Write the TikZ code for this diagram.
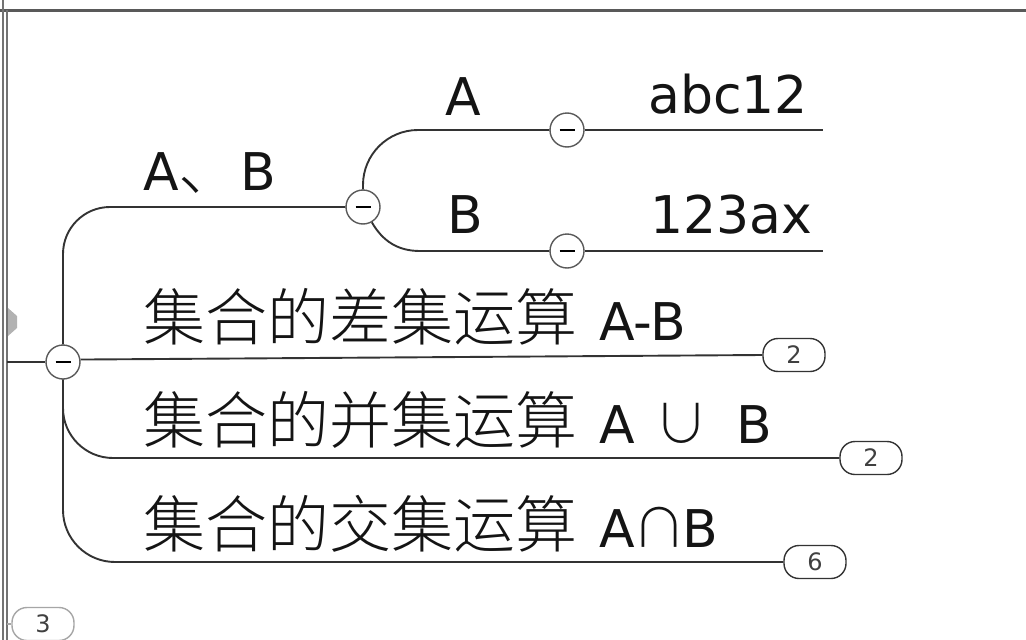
\documentclass[tikz,border=0pt]{standalone}
\usepackage{fontspec}
\setmainfont{DejaVu Sans}
\IfFontExistsTF{Noto Sans CJK SC Light}{\newfontfamily\cjk{Noto Sans CJK SC Light}}{\newfontfamily\cjk{Noto Sans CJK SC}}
\newcommand{\hanzi}[1]{{\cjk\fontsize{62}{62}\selectfont #1}}
\newcommand{\setop}[1]{{\cjk\fontsize{54}{54}\selectfont #1}}
\tikzset{branch/.style={line width=1.9pt, draw=black!80}}
\tikzset{fold/.style={circle, draw=black!65, line width=1.4pt, fill=white, minimum size=34pt, inner sep=0pt}}
\tikzset{badge/.style={draw=black!80, line width=1.4pt, fill=white, rounded corners=15pt, minimum width=62pt, minimum height=33pt, inner sep=0pt, text=black!75, font=\fontsize{24}{24}\selectfont}}
\tikzset{txt/.style={anchor=base west, inner sep=0pt, text=black!92, font=\fontsize{52}{60}\selectfont}}

\begin{document}
\begin{tikzpicture}[x=1pt,y=-1pt]
    \useasboundingbox (0,0) rectangle (1026,640);
    % window frame
    \draw[black!65, line width=3pt] (0,10) -- (1026,10);
    \draw[black!55, line width=1.2pt] (3,0) -- (3,640);
    \draw[black!55, line width=1.2pt] (7,10) -- (7,640);
    \fill[black!30] (8,308) -- (17,316) -- (17,328) -- (8,336) -- cycle;

    \node[fold] (root) at (63,362) {\rule{15pt}{2pt}};
    \node[fold] (ab) at (363,207) {\rule{15pt}{2pt}};
    \node[fold] (ca) at (567,130) {\rule{15pt}{2pt}};
    \node[fold] (cb) at (567,251) {\rule{15pt}{2pt}};
    \node[badge] (n1) at (794,355) {2};
    \node[badge] (n2) at (871,458) {2};
    \node[badge] (n3) at (815,562) {6};
    \node[badge, draw=black!35] (n0) at (43,624) {3};
    \coordinate (edge) at (7,362);
    \coordinate (edge0) at (7,624);
    \coordinate (ea) at (823,130);
    \coordinate (eb) at (823,251);
    \coordinate (bl) at (420,251);

    \draw[branch] (edge) -- (root);
    \draw[branch, draw=black!35] (edge0) -- (n0);
    \draw[branch, rounded corners=47pt] (root.north) |- (ab.west);
    \draw[branch] (root.8) -- (n1.west);
    \draw[branch, rounded corners=50pt] (root.south) |- (n2.west);
    \draw[branch, rounded corners=52pt] (root.south) |- (n3.west);
    \draw[branch, rounded corners=55pt] (ab.north) |- (ca.west);
    \draw[branch] (ab.-60) to[out=-60,in=180] (bl) -- (cb);
    \draw[branch] (ca) -- (ea);
    \draw[branch] (cb) -- (eb);

    \node[txt] (tab) at (143,190) {A\hanzi{、}B};
    \node[txt] (ta) at (445,115) {A};
    \node[txt] (va) at (648,113) {abc12};
    \node[txt] (tb) at (447,233) {B};
    \node[txt] (vb) at (650,233) {123ax};
    \node[txt] (t1) at (143,340) {\hanzi{集合的差集运算}\hspace{22pt}A-B};
    \node[txt] (t2) at (143,443) {\hanzi{集合的并集运算}\hspace{22pt}A\hspace{20pt}\setop{∪}\hspace{28pt}B};
    \node[txt] (t3) at (143,547) {\hanzi{集合的交集运算}\hspace{22pt}A\hspace{-2pt}\setop{∩}\hspace{-4pt}B};
\end{tikzpicture}
\end{document}
